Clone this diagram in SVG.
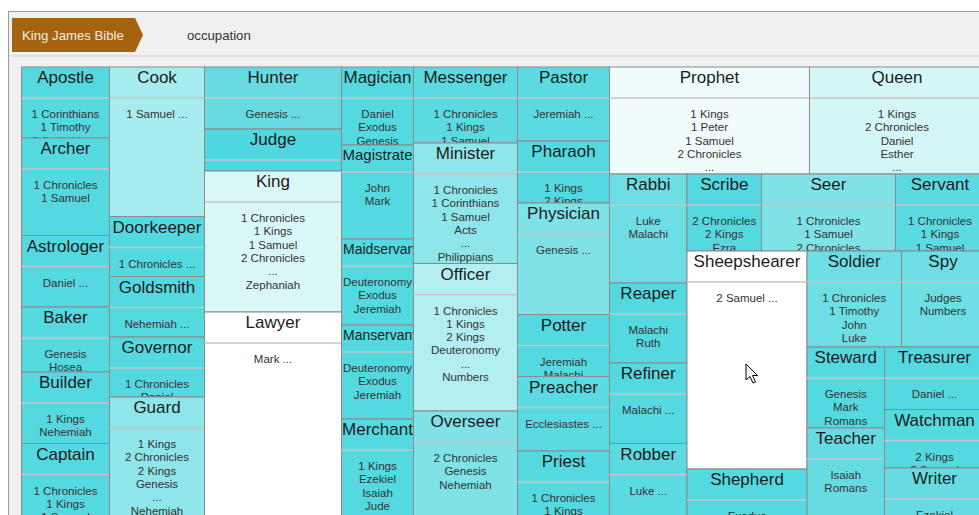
<svg xmlns="http://www.w3.org/2000/svg" width="979" height="515" viewBox="0 0 979 515">
<style>
.cell{stroke:#8a8a8a;stroke-width:1}
.sep{stroke:#c6c6c6;stroke-width:1.5}
.t{font-family:"Liberation Sans",Arial,sans-serif;font-size:17px;fill:#1c1c1c;text-anchor:middle}
.t15{font-size:15px}
.t14{font-size:14px}
.ts{text-anchor:start}
.b{font-family:"Liberation Sans",Arial,sans-serif;font-size:11.5px;fill:#333;text-anchor:middle}
.k1{fill:#55d9e0}.k2{fill:#5cdae1}.k3{fill:#66dce2}.k4{fill:#6ddee4}.k5{fill:#7ee2e7}.k6{fill:#8ee6ea}
.k7{fill:#a7ecef}.k8{fill:#b3eff1}.k9{fill:#d4f6f7}.k10{fill:#daf7f8}.k11{fill:#f0fcfc}.kw{fill:#ffffff}
</style>
<rect x="8.5" y="11.5" width="980" height="520" fill="#f0f0f0" stroke="#9a9a9a"/>
<line x1="9" y1="56" x2="979" y2="56" stroke="#cfcfcf"/>
<g id="breadcrumb">
<polygon points="12,18 135,18 143,35 135,52 12,52" fill="#a6620f"/>
<text x="22" y="40" font-family="'Liberation Sans',Arial,sans-serif" font-size="13.2" fill="#f2ece4">King James Bible</text>
<text x="187" y="40" font-family="'Liberation Sans',Arial,sans-serif" font-size="13.2" fill="#333">occupation</text>
</g>
<g id="treemap">
<g id="apostle"><rect class="cell k1" x="21.5" y="67" width="88" height="71"/><line class="sep" x1="21.5" y1="98" x2="109.5" y2="98"/><svg x="21.5" y="67" width="88" height="71"><text class="t" x="44" y="16">Apostle</text><text class="b" y="51"><tspan x="44">1 Corinthians</tspan><tspan x="44" dy="13.3">1 Timothy</tspan><tspan x="44" dy="13.3">2 Corinthians</tspan></text></svg></g>
<g id="archer"><rect class="cell k1" x="21.5" y="138" width="88" height="97.5"/><line class="sep" x1="21.5" y1="169" x2="109.5" y2="169"/><svg x="21.5" y="138" width="88" height="97.5"><text class="t" x="44" y="16">Archer</text><text class="b" y="51"><tspan x="44">1 Chronicles</tspan><tspan x="44" dy="13.3">1 Samuel</tspan></text></svg></g>
<g id="astrologer"><rect class="cell k1" x="21.5" y="235.5" width="88" height="71.5"/><line class="sep" x1="21.5" y1="266.5" x2="109.5" y2="266.5"/><svg x="21.5" y="235.5" width="88" height="71.5"><text class="t" x="44" y="16">Astrologer</text><text class="b" y="51"><tspan x="44">Daniel ...</tspan></text></svg></g>
<g id="baker"><rect class="cell k1" x="21.5" y="307" width="88" height="65"/><line class="sep" x1="21.5" y1="338" x2="109.5" y2="338"/><svg x="21.5" y="307" width="88" height="65"><text class="t" x="44" y="16">Baker</text><text class="b" y="51"><tspan x="44">Genesis</tspan><tspan x="44" dy="13.3">Hosea</tspan></text></svg></g>
<g id="builder"><rect class="cell k1" x="21.5" y="372" width="88" height="71.5"/><line class="sep" x1="21.5" y1="403" x2="109.5" y2="403"/><svg x="21.5" y="372" width="88" height="71.5"><text class="t" x="44" y="16">Builder</text><text class="b" y="51"><tspan x="44">1 Kings</tspan><tspan x="44" dy="13.3">Nehemiah</tspan></text></svg></g>
<g id="captain"><rect class="cell k1" x="21.5" y="443.5" width="88" height="90"/><line class="sep" x1="21.5" y1="474.5" x2="109.5" y2="474.5"/><svg x="21.5" y="443.5" width="88" height="90"><text class="t" x="44" y="16">Captain</text><text class="b" y="51"><tspan x="44">1 Chronicles</tspan><tspan x="44" dy="13.3">1 Kings</tspan><tspan x="44" dy="13.3">1 Samuel</tspan></text></svg></g>

<g id="cook"><rect class="cell k7" x="109.5" y="67" width="95" height="149.5"/><line class="sep" x1="109.5" y1="98" x2="204.5" y2="98"/><svg x="109.5" y="67" width="95" height="149.5"><text class="t" x="47.5" y="16">Cook</text><text class="b" y="51"><tspan x="47.5">1 Samuel ...</tspan></text></svg></g>
<g id="doorkeeper"><rect class="cell k1" x="109.5" y="216.5" width="95" height="60"/><line class="sep" x1="109.5" y1="247.5" x2="204.5" y2="247.5"/><svg x="109.5" y="216.5" width="95" height="60"><text class="t" x="47.5" y="16">Doorkeeper</text><text class="b" y="51"><tspan x="47.5">1 Chronicles ...</tspan></text></svg></g>
<g id="goldsmith"><rect class="cell k1" x="109.5" y="276.5" width="95" height="60.5"/><line class="sep" x1="109.5" y1="307.5" x2="204.5" y2="307.5"/><svg x="109.5" y="276.5" width="95" height="60.5"><text class="t" x="47.5" y="16">Goldsmith</text><text class="b" y="51"><tspan x="47.5">Nehemiah ...</tspan></text></svg></g>
<g id="governor"><rect class="cell k1" x="109.5" y="337" width="95" height="60"/><line class="sep" x1="109.5" y1="368" x2="204.5" y2="368"/><svg x="109.5" y="337" width="95" height="60"><text class="t" x="47.5" y="16">Governor</text><text class="b" y="51"><tspan x="47.5">1 Chronicles</tspan><tspan x="47.5" dy="13.3">Daniel</tspan></text></svg></g>
<g id="guard"><rect class="cell k6" x="109.5" y="397" width="95" height="137"/><line class="sep" x1="109.5" y1="428" x2="204.5" y2="428"/><svg x="109.5" y="397" width="95" height="137"><text class="t" x="47.5" y="16">Guard</text><text class="b" y="51"><tspan x="47.5">1 Kings</tspan><tspan x="47.5" dy="13.3">2 Chronicles</tspan><tspan x="47.5" dy="13.3">2 Kings</tspan><tspan x="47.5" dy="13.3">Genesis</tspan><tspan x="47.5" dy="13.3">...</tspan><tspan x="47.5" dy="13.3">Nehemiah</tspan></text></svg></g>

<g id="hunter"><rect class="cell k3" x="204.5" y="67" width="137" height="62"/><line class="sep" x1="204.5" y1="98" x2="341.5" y2="98"/><svg x="204.5" y="67" width="137" height="62"><text class="t" x="68.5" y="16">Hunter</text><text class="b" y="51"><tspan x="68.5">Genesis ...</tspan></text></svg></g>
<g id="judge"><rect class="cell" fill="#4fd7df" x="204.5" y="129" width="137" height="42"/><line class="sep" x1="204.5" y1="160" x2="341.5" y2="160"/><svg x="204.5" y="129" width="137" height="42"><text class="t" x="68.5" y="16">Judge</text></svg></g>
<g id="king"><rect class="cell k10" x="204.5" y="171" width="137" height="141"/><line class="sep" x1="204.5" y1="202" x2="341.5" y2="202"/><svg x="204.5" y="171" width="137" height="141"><text class="t" x="68.5" y="16">King</text><text class="b" y="51"><tspan x="68.5">1 Chronicles</tspan><tspan x="68.5" dy="13.3">1 Kings</tspan><tspan x="68.5" dy="13.3">1 Samuel</tspan><tspan x="68.5" dy="13.3">2 Chronicles</tspan><tspan x="68.5" dy="13.3">...</tspan><tspan x="68.5" dy="13.3">Zephaniah</tspan></text></svg></g>
<g id="lawyer"><rect class="cell kw" x="204.5" y="312" width="137" height="222"/><line class="sep" x1="204.5" y1="343" x2="341.5" y2="343"/><svg x="204.5" y="312" width="137" height="222"><text class="t" x="68.5" y="16">Lawyer</text><text class="b" y="51"><tspan x="68.5">Mark ...</tspan></text></svg></g>

<g id="magician"><rect class="cell k1" x="341.5" y="67" width="72" height="78"/><line class="sep" x1="341.5" y1="98" x2="413.5" y2="98"/><svg x="341.5" y="67" width="72" height="78"><text class="t" x="36" y="16">Magician</text><text class="b" y="51"><tspan x="36">Daniel</tspan><tspan x="36" dy="13.3">Exodus</tspan><tspan x="36" dy="13.3">Genesis</tspan></text></svg></g>
<g id="magistrate"><rect class="cell k1" x="341.5" y="145" width="72" height="94"/><line class="sep" x1="341.5" y1="172" x2="413.5" y2="172"/><svg x="341.5" y="145" width="72" height="94"><text class="t t15" x="36" y="14.5">Magistrate</text><text class="b" y="47"><tspan x="36">John</tspan><tspan x="36" dy="13.3">Mark</tspan></text></svg></g>
<g id="maidservant"><rect class="cell k1" x="341.5" y="239" width="72" height="86"/><line class="sep" x1="341.5" y1="266" x2="413.5" y2="266"/><svg x="341.5" y="239" width="72" height="86"><text class="t t14 ts" x="1.5" y="14.5">Maidservant</text><text class="b" y="47"><tspan x="36">Deuteronomy</tspan><tspan x="36" dy="13.3">Exodus</tspan><tspan x="36" dy="13.3">Jeremiah</tspan></text></svg></g>
<g id="manservant"><rect class="cell k1" x="341.5" y="325" width="72" height="94"/><line class="sep" x1="341.5" y1="352" x2="413.5" y2="352"/><svg x="341.5" y="325" width="72" height="94"><text class="t t14 ts" x="1.5" y="14.5">Manservant</text><text class="b" y="47"><tspan x="36">Deuteronomy</tspan><tspan x="36" dy="13.3">Exodus</tspan><tspan x="36" dy="13.3">Jeremiah</tspan></text></svg></g>
<g id="merchant"><rect class="cell k1" x="341.5" y="419" width="72" height="115"/><line class="sep" x1="341.5" y1="450" x2="413.5" y2="450"/><svg x="341.5" y="419" width="72" height="115"><text class="t" x="36" y="16">Merchant</text><text class="b" y="51"><tspan x="36">1 Kings</tspan><tspan x="36" dy="13.3">Ezekiel</tspan><tspan x="36" dy="13.3">Isaiah</tspan><tspan x="36" dy="13.3">Jude</tspan></text></svg></g>

<g id="messenger"><rect class="cell k2" x="413.5" y="67" width="104" height="76"/><line class="sep" x1="413.5" y1="98" x2="517.5" y2="98"/><svg x="413.5" y="67" width="104" height="76"><text class="t" x="52" y="16">Messenger</text><text class="b" y="51"><tspan x="52">1 Chronicles</tspan><tspan x="52" dy="13.3">1 Kings</tspan><tspan x="52" dy="13.3">1 Samuel</tspan></text></svg></g>
<g id="minister"><rect class="cell k6" x="413.5" y="143" width="104" height="120.5"/><line class="sep" x1="413.5" y1="174" x2="517.5" y2="174"/><svg x="413.5" y="143" width="104" height="120.5"><text class="t" x="52" y="16">Minister</text><text class="b" y="51"><tspan x="52">1 Chronicles</tspan><tspan x="52" dy="13.3">1 Corinthians</tspan><tspan x="52" dy="13.3">1 Samuel</tspan><tspan x="52" dy="13.3">Acts</tspan><tspan x="52" dy="13.3">...</tspan><tspan x="52" dy="13.3">Philippians</tspan></text></svg></g>
<g id="officer"><rect class="cell k8" x="413.5" y="263.5" width="104" height="147.5"/><line class="sep" x1="413.5" y1="294.5" x2="517.5" y2="294.5"/><svg x="413.5" y="263.5" width="104" height="147.5"><text class="t" x="52" y="16">Officer</text><text class="b" y="51"><tspan x="52">1 Chronicles</tspan><tspan x="52" dy="13.3">1 Kings</tspan><tspan x="52" dy="13.3">2 Kings</tspan><tspan x="52" dy="13.3">Deuteronomy</tspan><tspan x="52" dy="13.3">...</tspan><tspan x="52" dy="13.3">Numbers</tspan></text></svg></g>
<g id="overseer"><rect class="cell k5" x="413.5" y="411" width="104" height="123"/><line class="sep" x1="413.5" y1="442" x2="517.5" y2="442"/><svg x="413.5" y="411" width="104" height="123"><text class="t" x="52" y="16">Overseer</text><text class="b" y="51"><tspan x="52">2 Chronicles</tspan><tspan x="52" dy="13.3">Genesis</tspan><tspan x="52" dy="13.3">Nehemiah</tspan></text></svg></g>

<g id="pastor"><rect class="cell k2" x="517.5" y="67" width="92" height="74"/><line class="sep" x1="517.5" y1="98" x2="609.5" y2="98"/><svg x="517.5" y="67" width="92" height="74"><text class="t" x="46" y="16">Pastor</text><text class="b" y="51"><tspan x="46">Jeremiah ...</tspan></text></svg></g>
<g id="pharaoh"><rect class="cell k1" x="517.5" y="141" width="92" height="62"/><line class="sep" x1="517.5" y1="172" x2="609.5" y2="172"/><svg x="517.5" y="141" width="92" height="62"><text class="t" x="46" y="16">Pharaoh</text><text class="b" y="51"><tspan x="46">1 Kings</tspan><tspan x="46" dy="13.3">2 Kings</tspan></text></svg></g>
<g id="physician"><rect class="cell k5" x="517.5" y="203" width="92" height="111.5"/><line class="sep" x1="517.5" y1="234" x2="609.5" y2="234"/><svg x="517.5" y="203" width="92" height="111.5"><text class="t" x="46" y="16">Physician</text><text class="b" y="51"><tspan x="46">Genesis ...</tspan></text></svg></g>
<g id="potter"><rect class="cell k1" x="517.5" y="314.5" width="92" height="62"/><line class="sep" x1="517.5" y1="345.5" x2="609.5" y2="345.5"/><svg x="517.5" y="314.5" width="92" height="62"><text class="t" x="46" y="16">Potter</text><text class="b" y="51"><tspan x="46">Jeremiah</tspan><tspan x="46" dy="13.3">Malachi</tspan></text></svg></g>
<g id="preacher"><rect class="cell k2" x="517.5" y="376.5" width="92" height="74.5"/><line class="sep" x1="517.5" y1="407.5" x2="609.5" y2="407.5"/><svg x="517.5" y="376.5" width="92" height="74.5"><text class="t" x="46" y="16">Preacher</text><text class="b" y="51"><tspan x="46">Ecclesiastes ...</tspan></text></svg></g>
<g id="priest"><rect class="cell k1" x="517.5" y="451" width="92" height="83"/><line class="sep" x1="517.5" y1="482" x2="609.5" y2="482"/><svg x="517.5" y="451" width="92" height="83"><text class="t" x="46" y="16">Priest</text><text class="b" y="51"><tspan x="46">1 Chronicles</tspan><tspan x="46" dy="13.3">1 Kings</tspan></text></svg></g>

<g id="prophet"><rect class="cell k11" x="609.5" y="67" width="200" height="107"/><line class="sep" x1="609.5" y1="98" x2="809.5" y2="98"/><svg x="609.5" y="67" width="200" height="107"><text class="t" x="100" y="16">Prophet</text><text class="b" y="51"><tspan x="100">1 Kings</tspan><tspan x="100" dy="13.3">1 Peter</tspan><tspan x="100" dy="13.3">1 Samuel</tspan><tspan x="100" dy="13.3">2 Chronicles</tspan><tspan x="100" dy="13.3">...</tspan></text></svg></g>
<g id="queen"><rect class="cell k9" x="809.5" y="67" width="175" height="107"/><line class="sep" x1="809.5" y1="98" x2="984.5" y2="98"/><svg x="809.5" y="67" width="175" height="107"><text class="t" x="87.5" y="16">Queen</text><text class="b" y="51"><tspan x="87.5">1 Kings</tspan><tspan x="87.5" dy="13.3">2 Chronicles</tspan><tspan x="87.5" dy="13.3">Daniel</tspan><tspan x="87.5" dy="13.3">Esther</tspan><tspan x="87.5" dy="13.3">...</tspan></text></svg></g>
<g id="rabbi"><rect class="cell k4" x="609.5" y="174" width="77.5" height="109"/><line class="sep" x1="609.5" y1="205" x2="687" y2="205"/><svg x="609.5" y="174" width="77.5" height="109"><text class="t" x="38.75" y="16">Rabbi</text><text class="b" y="51"><tspan x="38.75">Luke</tspan><tspan x="38.75" dy="13.3">Malachi</tspan></text></svg></g>
<g id="scribe"><rect class="cell k1" x="687" y="174" width="74.5" height="77"/><line class="sep" x1="687" y1="205" x2="761.5" y2="205"/><svg x="687" y="174" width="74.5" height="77"><text class="t" x="37.25" y="16">Scribe</text><text class="b" y="51"><tspan x="37.25">2 Chronicles</tspan><tspan x="37.25" dy="13.3">2 Kings</tspan><tspan x="37.25" dy="13.3">Ezra</tspan></text></svg></g>
<g id="seer"><rect class="cell k5" x="761.5" y="174" width="134" height="77"/><line class="sep" x1="761.5" y1="205" x2="895.5" y2="205"/><svg x="761.5" y="174" width="134" height="77"><text class="t" x="67" y="16">Seer</text><text class="b" y="51"><tspan x="67">1 Chronicles</tspan><tspan x="67" dy="13.3">1 Samuel</tspan><tspan x="67" dy="13.3">2 Chronicles</tspan></text></svg></g>
<g id="servant"><rect class="cell k2" x="895.5" y="174" width="89" height="77"/><line class="sep" x1="895.5" y1="205" x2="984.5" y2="205"/><svg x="895.5" y="174" width="89" height="77"><text class="t" x="44.5" y="16">Servant</text><text class="b" y="51"><tspan x="44.5">1 Chronicles</tspan><tspan x="44.5" dy="13.3">1 Kings</tspan><tspan x="44.5" dy="13.3">1 Samuel</tspan></text></svg></g>
<g id="reaper"><rect class="cell k1" x="609.5" y="283" width="77.5" height="80"/><line class="sep" x1="609.5" y1="314" x2="687" y2="314"/><svg x="609.5" y="283" width="77.5" height="80"><text class="t" x="38.75" y="16">Reaper</text><text class="b" y="51"><tspan x="38.75">Malachi</tspan><tspan x="38.75" dy="13.3">Ruth</tspan></text></svg></g>
<g id="refiner"><rect class="cell k1" x="609.5" y="363" width="77.5" height="80.5"/><line class="sep" x1="609.5" y1="394" x2="687" y2="394"/><svg x="609.5" y="363" width="77.5" height="80.5"><text class="t" x="38.75" y="16">Refiner</text><text class="b" y="51"><tspan x="38.75">Malachi ...</tspan></text></svg></g>
<g id="robber"><rect class="cell k2" x="609.5" y="443.5" width="77.5" height="90"/><line class="sep" x1="609.5" y1="474.5" x2="687" y2="474.5"/><svg x="609.5" y="443.5" width="77.5" height="90"><text class="t" x="38.75" y="16">Robber</text><text class="b" y="51"><tspan x="38.75">Luke ...</tspan></text></svg></g>
<g id="sheepshearer"><rect class="cell kw" x="687" y="251" width="120" height="218"/><line class="sep" x1="687" y1="282" x2="807" y2="282"/><svg x="687" y="251" width="120" height="218"><text class="t" x="60" y="16">Sheepshearer</text><text class="b" y="51"><tspan x="60">2 Samuel ...</tspan></text></svg></g>
<g id="shepherd"><rect class="cell k1" x="687" y="469" width="120" height="65"/><line class="sep" x1="687" y1="500" x2="807" y2="500"/><svg x="687" y="469" width="120" height="65"><text class="t" x="60" y="16">Shepherd</text><text class="b" y="51"><tspan x="60">Exodus</tspan></text></svg></g>
<g id="soldier"><rect class="cell k4" x="807" y="251" width="94.5" height="96"/><line class="sep" x1="807" y1="282" x2="901.5" y2="282"/><svg x="807" y="251" width="94.5" height="96"><text class="t" x="47.25" y="16">Soldier</text><text class="b" y="51"><tspan x="47.25">1 Chronicles</tspan><tspan x="47.25" dy="13.3">1 Timothy</tspan><tspan x="47.25" dy="13.3">John</tspan><tspan x="47.25" dy="13.3">Luke</tspan></text></svg></g>
<g id="spy"><rect class="cell k4" x="901.5" y="251" width="83" height="96"/><line class="sep" x1="901.5" y1="282" x2="984.5" y2="282"/><svg x="901.5" y="251" width="83" height="96"><text class="t" x="41.5" y="16">Spy</text><text class="b" y="51"><tspan x="41.5">Judges</tspan><tspan x="41.5" dy="13.3">Numbers</tspan></text></svg></g>
<g id="steward"><rect class="cell k1" x="807" y="347" width="77.5" height="81"/><line class="sep" x1="807" y1="378" x2="884.5" y2="378"/><svg x="807" y="347" width="77.5" height="81"><text class="t" x="38.75" y="16">Steward</text><text class="b" y="51"><tspan x="38.75">Genesis</tspan><tspan x="38.75" dy="13.3">Mark</tspan><tspan x="38.75" dy="13.3">Romans</tspan></text></svg></g>
<g id="teacher"><rect class="cell k3" x="807" y="428" width="77.5" height="106"/><line class="sep" x1="807" y1="459" x2="884.5" y2="459"/><svg x="807" y="428" width="77.5" height="106"><text class="t" x="38.75" y="16">Teacher</text><text class="b" y="51"><tspan x="38.75">Isaiah</tspan><tspan x="38.75" dy="13.3">Romans</tspan></text></svg></g>
<g id="treasurer"><rect class="cell k1" x="884.5" y="347" width="100" height="62.5"/><line class="sep" x1="884.5" y1="378" x2="984.5" y2="378"/><svg x="884.5" y="347" width="100" height="62.5"><text class="t" x="50" y="16">Treasurer</text><text class="b" y="51"><tspan x="50">Daniel ...</tspan></text></svg></g>
<g id="watchman"><rect class="cell k1" x="884.5" y="409.5" width="100" height="58.5"/><line class="sep" x1="884.5" y1="440.5" x2="984.5" y2="440.5"/><svg x="884.5" y="409.5" width="100" height="58.5"><text class="t" x="50" y="16">Watchman</text><text class="b" y="51"><tspan x="50">2 Kings</tspan><tspan x="50" dy="13.3">2 Samuel</tspan></text></svg></g>
<g id="writer"><rect class="cell k3" x="884.5" y="468" width="100" height="66"/><line class="sep" x1="884.5" y1="499" x2="984.5" y2="499"/><svg x="884.5" y="468" width="100" height="66"><text class="t" x="50" y="16">Writer</text><text class="b" y="51"><tspan x="50">Ezekiel</tspan></text></svg></g>
</g>
<g id="cursor"><path d="M746,364 L746,380 L750,376.5 L753,383 L755.5,382 L752.5,375.5 L757.5,375.5 Z" fill="#fff" stroke="#000" stroke-width="1" stroke-linejoin="round"/></g>
</svg>
